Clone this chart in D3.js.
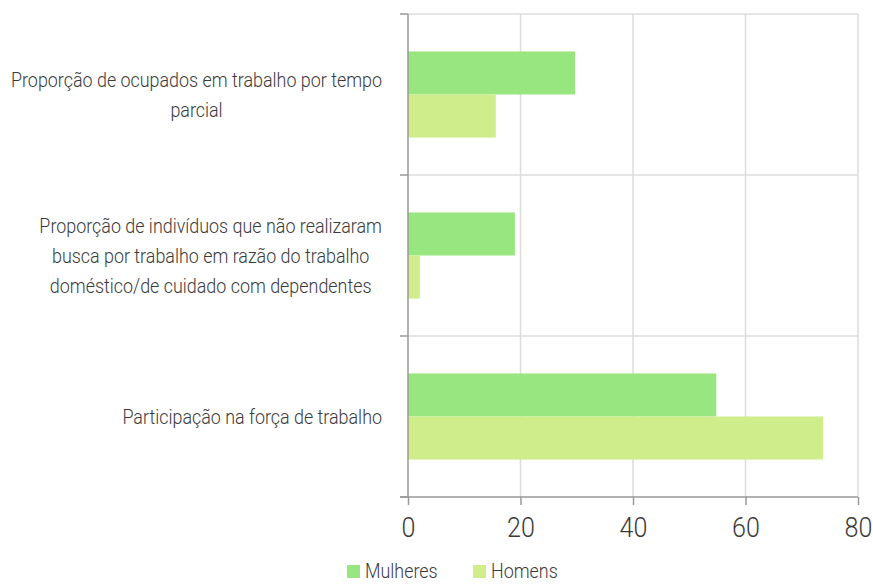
<!DOCTYPE html>
<html>
<head>
<meta charset="utf-8">
<script src="https://cdn.jsdelivr.net/npm/d3@7"></script>
<style>
  body { margin: 0; background: #fff; }
  text { font-family: Roboto, "Noto Sans", sans-serif; font-weight: 300; fill: #3a3a3a; }
</style>
</head>
<body>
<div id="chart"></div>
<script>
// categories, top to bottom
const categories = [
  "Proporção de ocupados em trabalho por tempo parcial",
  "Proporção de indivíduos que não realizaram busca por trabalho em razão do trabalho doméstico/de cuidado com dependentes",
  "Participação na força de trabalho"
];
const labelLines = [
  ["Proporção de ocupados em trabalho por tempo", "parcial"],
  ["Proporção de indivíduos que não realizaram", "busca por trabalho em razão do trabalho", "doméstico/de cuidado com dependentes"],
  ["Participação na força de trabalho"]
];
const seriesNames = ["Mulheres", "Homens"];
const mulheres = [29.7, 19.0, 54.8];
const homens = [15.6, 2.1, 73.8];
const xTicks = [0, 20, 40, 60, 80];
const colors = ["#98e680", "#cfee8b"];

const width = 873, height = 584;
const margin = {top: 14, right: 15, bottom: 87, left: 408};

const svg = d3.select('#chart').append('svg')
  .attr('width', width)
  .attr('height', height);

const x = d3.scaleLinear().domain([0, 80]).range([margin.left, width - margin.right]);
const y = d3.scaleBand().domain(categories).range([margin.top, height - margin.bottom]);
const sub = d3.scaleBand().domain(seriesNames).range([0, y.bandwidth()]).paddingOuter(0.87);

// squeeze the text horizontally so it looks like the narrow font of the original
let squeeze = 1;
const probe = svg.append('text').style('font-size', '20px').text(labelLines[0][0]);
squeeze = 371 / probe.node().getComputedTextLength();
probe.remove();
const narrow = sel => sel.each(function () {
  const w = this.getComputedTextLength();
  d3.select(this).attr('textLength', w * squeeze).attr('lengthAdjust', 'spacingAndGlyphs');
});

// vertical grid
svg.append('g').selectAll('line').data(xTicks.slice(1)).enter().append('line')
  .attr('x1', d => x(d)).attr('x2', d => x(d))
  .attr('y1', margin.top).attr('y2', height - margin.bottom)
  .attr('stroke', '#dcdcdc').attr('stroke-width', 1.5);

// horizontal grid at band boundaries
const bounds = categories.map(c => y(c)).concat([y(categories[2]) + y.bandwidth()]);
svg.append('g').selectAll('line').data(bounds.slice(0, 3)).enter().append('line')
  .attr('x1', margin.left).attr('x2', x(80))
  .attr('y1', d => d).attr('y2', d => d)
  .attr('stroke', '#dcdcdc').attr('stroke-width', 1.5);

// bars
const rows = categories.map((c, i) => ({c: c, vals: [mulheres[i], homens[i]]}));
const grp = svg.append('g').selectAll('g').data(rows).enter().append('g')
  .attr('transform', d => 'translate(0,' + y(d.c) + ')');
grp.selectAll('rect').data(d => d.vals.map((v, j) => ({v: v, s: seriesNames[j], j: j}))).enter().append('rect')
  .attr('x', x(0))
  .attr('y', d => sub(d.s))
  .attr('width', d => x(d.v) - x(0))
  .attr('height', sub.bandwidth())
  .attr('fill', d => colors[d.j]);

// y axis
const yAxis = svg.append('g');
yAxis.append('line')
  .attr('x1', margin.left).attr('x2', margin.left)
  .attr('y1', margin.top).attr('y2', height - margin.bottom)
  .attr('stroke', '#999').attr('stroke-width', 1.5);
yAxis.selectAll('.ytick').data(bounds).enter().append('line')
  .attr('class', 'ytick')
  .attr('x1', margin.left - 8).attr('x2', margin.left)
  .attr('y1', d => d).attr('y2', d => d)
  .attr('stroke', '#999').attr('stroke-width', 1.5);

// x axis
const xAxis = svg.append('g')
  .attr('transform', 'translate(0,' + (height - margin.bottom) + ')')
  .call(d3.axisBottom(x).tickValues(xTicks).tickSize(8).tickPadding(12).tickSizeOuter(0));
xAxis.select('.domain').attr('d', 'M' + (margin.left - 8) + ',0H' + x(80))
  .attr('stroke', '#999').attr('stroke-width', 1.5);
xAxis.selectAll('.tick line').attr('stroke', '#999').attr('stroke-width', 1.5);
xAxis.selectAll('.tick text')
  .style('font-family', 'Roboto, sans-serif')
  .style('font-size', '28px')
  .style('fill', '#3a3a3a')
  .call(narrow);

// category labels
const labelRight = 382, lineH = 30;
labelLines.forEach((lines, i) => {
  const cy = y(categories[i]) + y.bandwidth() / 2;
  const g = svg.append('g');
  const texts = g.selectAll('text').data(lines).enter().append('text')
    .attr('text-anchor', 'middle')
    .attr('dy', '0.35em')
    .attr('y', (d, k) => cy + (k - (lines.length - 1) / 2) * lineH)
    .style('font-size', '20px')
    .text(d => d)
    .call(narrow);
  let w = 0;
  texts.each(function () { w = Math.max(w, +this.getAttribute('textLength')); });
  texts.attr('x', labelRight - w / 2);
});

// legend
const legend = svg.append('g').attr('transform', 'translate(347,565)');
const legX = [0, 126];
seriesNames.forEach((s, i) => {
  legend.append('rect').attr('x', legX[i]).attr('y', 0).attr('width', 13).attr('height', 13).attr('fill', colors[i]);
  legend.append('text').attr('x', legX[i] + 18).attr('y', 13)
    .style('font-size', '20px').text(s).call(narrow);
});
</script>
</body>
</html>
